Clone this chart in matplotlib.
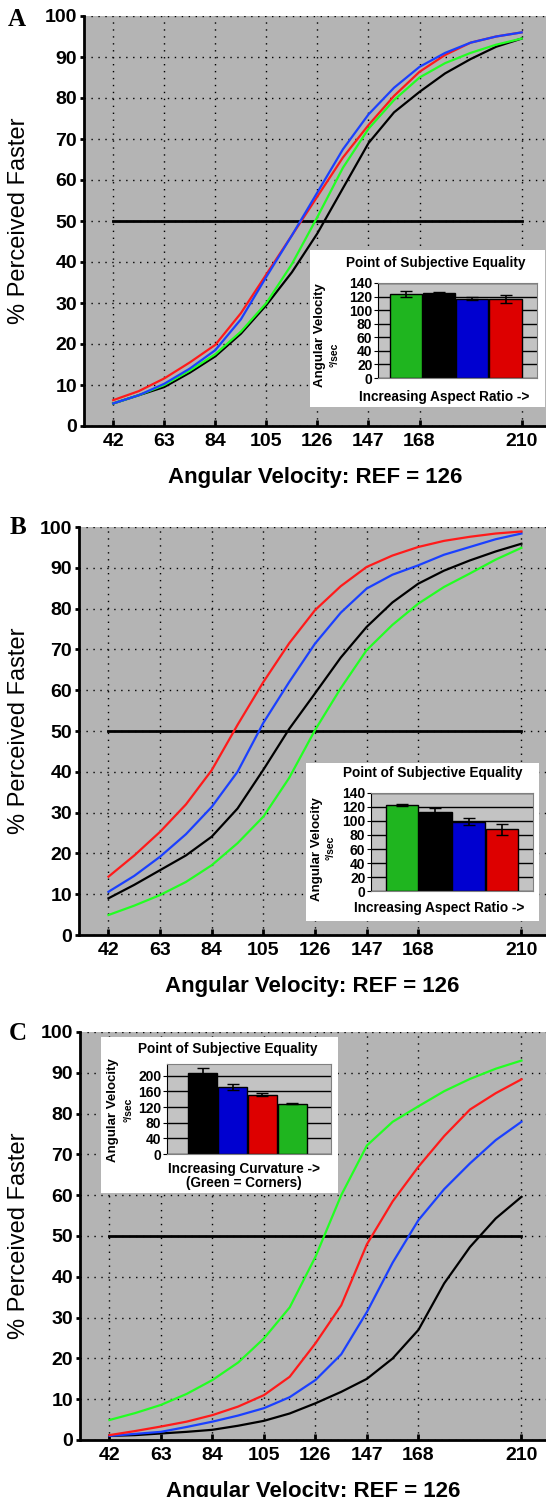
import matplotlib
matplotlib.use("Agg")
import matplotlib.pyplot as plt
import numpy as np

W, H = 546, 1497
plt.rcParams['font.family'] = ['Liberation Sans', 'DejaVu Sans']

# --- data ---
velocity = [42, 52.5, 63, 73.5, 84, 94.5, 105, 115.5, 126, 136.5, 147, 157.5, 168, 178.5, 189, 199.5, 210]
x_ticks = [42, 63, 84, 105, 126, 147, 168, 210]

a_black = [5.5, 7.5, 9.5, 13, 17, 22.5, 29.5, 37.5, 47, 58, 69, 76.5, 81.5, 86, 89.5, 92.5, 94.5]
a_green = [5.5, 7.5, 10, 13.5, 17.5, 23, 30, 39.5, 51, 63, 72.5, 79.5, 85, 88.5, 91, 93, 94.5]
a_blue = [5.5, 7.5, 10.3, 14, 18.5, 26, 36.4, 46.5, 57, 67.5, 76, 82.5, 87.6, 91, 93.5, 95, 96]
a_red = [6.3, 8.5, 11.6, 15.5, 19.8, 27.5, 37, 46.5, 56, 65.5, 73.4, 80.5, 86.4, 90.5, 93.5, 95, 96]

b_red = [14.3, 19.5, 25.3, 32, 40.4, 51.5, 62, 71.5, 79.6, 85.5, 90.2, 93, 95.1, 96.6, 97.6, 98.4, 98.9]
b_blue = [10.6, 14.5, 19.2, 24.7, 31.4, 40, 52, 62, 71.4, 79, 84.9, 88.3, 90.6, 93.2, 95.1, 97, 98.4]
b_black = [9, 12.3, 15.9, 19.5, 24.1, 31, 40.5, 50.5, 59.2, 68, 75.5, 81.5, 86.1, 89.3, 91.8, 94, 95.9]
b_green = [4.9, 7.2, 9.8, 13, 17.1, 22.5, 29, 38.5, 50.2, 60.5, 69.8, 76, 81.2, 85.3, 88.6, 92, 94.9]

c_green = [4.9, 6.6, 8.6, 11.3, 14.7, 19, 24.9, 32.5, 44.9, 60, 72.2, 78, 81.8, 85.5, 88.5, 91, 93]
c_red = [1.2, 2.2, 3.3, 4.5, 6.1, 8.2, 11, 15.5, 23.7, 33, 48, 58.5, 67, 74.5, 81, 85, 88.4]
c_blue = [1, 1.5, 2, 3.2, 4.5, 6, 7.8, 10.5, 14.7, 21, 31.4, 43.5, 53.9, 61.5, 67.8, 73.5, 78]
c_black = [1, 1.2, 1.6, 2, 2.5, 3.5, 4.7, 6.5, 9, 11.8, 15, 20, 27, 38.4, 47.3, 54.3, 59.6]

# inset PSE bars
ab_colors = ['green', 'black', 'blue', 'red']
a_pse = [124, 126, 117, 117]
a_err = [4.5, 1, 2, 6]
b_pse = [123, 113, 99, 88]
b_err = [1, 5, 5, 8]
c_colors = ['black', 'blue', 'red', 'green']
c_pse = [207, 171, 152, 129]
c_err = [12, 7, 5, 1.5]

line_col = {'black': '#000000', 'green': '#22ff22', 'blue': '#1a40ff', 'red': '#ff1a1a'}
bar_col = {'black': '#000000', 'green': '#1fb51f', 'blue': '#0000d0', 'red': '#dd0000'}

fig = plt.figure(figsize=(W / 100, H / 100), dpi=100)


def px_axes(x0, y0, x1, y1, **kw):
    return fig.add_axes([x0 / W, 1 - y1 / H, (x1 - x0) / W, (y1 - y0) / H], **kw)


def ftext(x, y, s, **kw):
    return fig.text(x / W, 1 - y / H, s, ha='center', va='center', **kw)


def main_panel(box, letter, letter_xy, curves):
    ax = px_axes(*box)
    ax.set_facecolor('#b4b4b4')
    for name, ys in curves:
        ax.plot(velocity, ys, color=line_col[name], lw=1.6, zorder=3)
    ax.plot([42, 210], [50, 50], color='black', lw=2, zorder=2)
    ax.set_xlim(30, 220)
    ax.set_ylim(0, 100)
    ax.set_xticks(x_ticks)
    ax.set_yticks(range(0, 101, 10))
    ax.grid(True, color='black', ls=(0, (1, 4)), lw=1)
    for s in ['top', 'right']:
        ax.spines[s].set_visible(False)
    for s in ['left', 'bottom']:
        ax.spines[s].set_linewidth(2)
    ax.tick_params(axis='x', direction='in', length=4, width=2, pad=5)
    ax.tick_params(axis='y', direction='out', length=3, width=2, pad=2)
    for lab in ax.get_xticklabels() + ax.get_yticklabels():
        lab.set_fontsize(14)
        lab.set_fontweight('bold')
    ax.set_xlabel('Angular Velocity: REF = 126', fontsize=16, fontweight='bold', labelpad=12)
    ax.set_ylabel('% Perceived Faster', fontsize=17, va='center')
    ax.yaxis.set_label_coords((19 - box[0]) / (box[2] - box[0]), 0.5)
    ftext(letter_xy[0], letter_xy[1], letter, fontsize=18, fontweight='bold',
          family='Liberation Serif')
    return ax


def inset(box, inner, colors, vals, errs, ymax, step, xlim, title_xy, xlabel_xy, xlabel,
          av_xy, unit_xy):
    bg = px_axes(*box)
    bg.set_facecolor('white')
    bg.set_xticks([])
    bg.set_yticks([])
    for s in bg.spines.values():
        s.set_visible(False)
    ax = px_axes(*inner)
    ax.set_facecolor('#c3c3c3')
    ax.set_axisbelow(True)
    ax.yaxis.grid(True, color='black', lw=1)
    ax.bar(range(4), vals, width=0.97, color=[bar_col[c] for c in colors], edgecolor='black', lw=1)
    ax.errorbar(range(4), vals, yerr=errs, fmt='none', ecolor='black', capsize=4, lw=1.2)
    ax.set_xlim(*xlim)
    ax.set_ylim(0, ymax)
    ax.set_yticks(range(0, ymax + 1, step))
    ax.set_xticks([])
    for s in ax.spines.values():
        s.set_color('#808080')
    ax.spines['left'].set_color('black')
    ax.tick_params(axis='y', length=3, pad=1)
    for lab in ax.get_yticklabels():
        lab.set_fontsize(10)
        lab.set_fontweight('bold')
    ftext(*title_xy, 'Point of Subjective Equality', fontsize=9.8, fontweight='bold')
    ftext(*xlabel_xy, xlabel, fontsize=9.8, fontweight='bold', linespacing=1.05)
    ftext(*av_xy, 'Angular Velocity', rotation=90, fontsize=9.5, fontweight='bold')
    ftext(*unit_xy, '°/sec', rotation=90, fontsize=7.5, fontweight='bold')
    return ax


main_panel((84, 16, 546, 426), 'A', (17, 20),
           [('black', a_black), ('green', a_green), ('red', a_red), ('blue', a_blue)])
inset((310, 250, 545, 407), (378, 283, 537, 378), ab_colors, a_pse, a_err, 140, 20,
      (-0.85, 3.95), (436, 263), (444, 397), 'Increasing Aspect Ratio ->',
      (320, 335), (335, 355))

main_panel((79, 527, 546, 935), 'B', (18, 527),
           [('green', b_green), ('black', b_black), ('blue', b_blue), ('red', b_red)])
inset((306, 763, 539, 921), (371, 793, 533, 891), ab_colors, b_pse, b_err, 140, 20,
      (-0.95, 3.95), (433, 773), (439, 908), 'Increasing Aspect Ratio ->',
      (317, 849), (331, 848))

main_panel((80, 1032, 546, 1440), 'C', (18, 1033),
           [('black', c_black), ('blue', c_blue), ('red', c_red), ('green', c_green)])
inset((101, 1037, 338, 1193), (167, 1064, 331, 1154), c_colors, c_pse, c_err, 230, 40,
      (-1.2, 4.3), (228, 1049), (244, 1176), 'Increasing Curvature ->\n(Green = Corners)',
      (113, 1110), (128, 1110))

fig.savefig('out.png', dpi=100)
